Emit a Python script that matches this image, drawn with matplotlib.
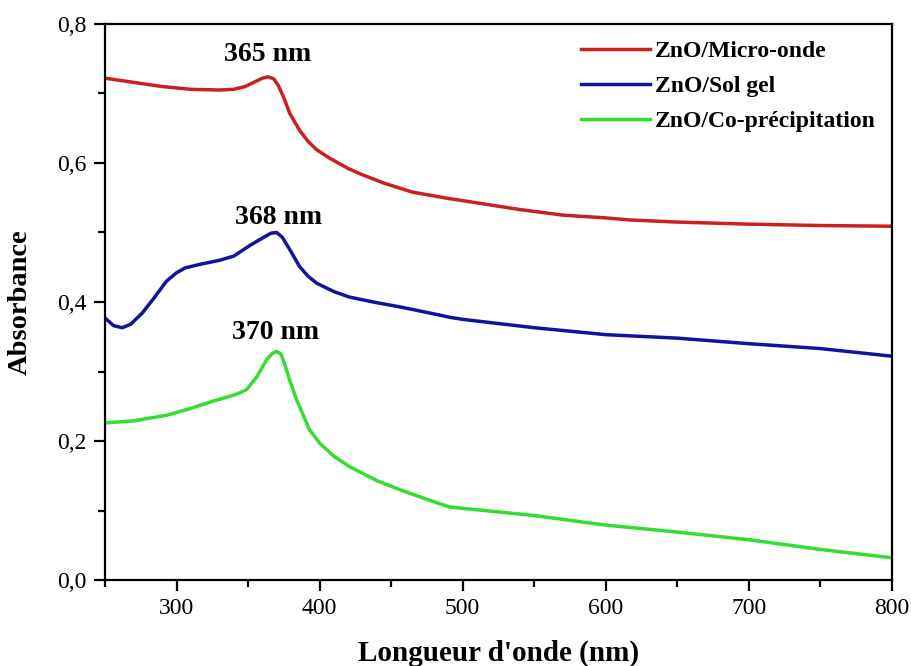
import numpy as np
import matplotlib
matplotlib.use("Agg")
import matplotlib.pyplot as plt
from matplotlib.ticker import MultipleLocator, FuncFormatter

plt.rcParams['font.family'] = ['Liberation Serif', 'DejaVu Serif']

# ZnO / Micro-onde
wl_red = [250, 270, 290, 310, 330, 340, 348, 355, 360, 364, 368, 371, 375, 379, 386, 392,
          398, 407, 420, 430, 445, 465, 490, 512, 540, 570, 600, 617, 650, 700, 750, 800]
abs_red = [0.722, 0.716, 0.710, 0.706, 0.705, 0.706, 0.710, 0.717, 0.722, 0.724, 0.721,
           0.712, 0.694, 0.672, 0.647, 0.631, 0.619, 0.607, 0.592, 0.583, 0.571, 0.558,
           0.549, 0.542, 0.533, 0.525, 0.521, 0.518, 0.515, 0.512, 0.510, 0.509]

# ZnO / Sol gel
wl_blue = [250, 256, 262, 268, 276, 284, 293, 300, 306, 316, 330, 340, 351, 360, 366,
           370, 374, 379, 386, 392, 398, 410, 421, 440, 456, 475, 491, 500, 550, 600,
           650, 700, 750, 800]
abs_blue = [0.377, 0.366, 0.363, 0.368, 0.384, 0.405, 0.430, 0.442, 0.449, 0.454, 0.460,
            0.466, 0.481, 0.492, 0.499, 0.500, 0.493, 0.476, 0.451, 0.437, 0.427, 0.415,
            0.407, 0.399, 0.393, 0.385, 0.378, 0.375, 0.363, 0.353, 0.348, 0.340, 0.333,
            0.322]

# ZnO / Co-precipitation
wl_green = [250, 270, 293, 310, 325, 340, 345, 349, 356, 363, 367, 370, 373, 376, 379,
            384, 393, 400, 410, 421, 440, 456, 475, 491, 520, 549, 600, 650, 700, 750,
            800]
abs_green = [0.226, 0.229, 0.237, 0.247, 0.257, 0.266, 0.270, 0.274, 0.292, 0.317, 0.326,
             0.329, 0.325, 0.308, 0.288, 0.259, 0.216, 0.197, 0.178, 0.163, 0.143, 0.130,
             0.116, 0.105, 0.099, 0.093, 0.079, 0.069, 0.058, 0.044, 0.032]

labels = ["ZnO/Micro-onde", "ZnO/Sol gel", "ZnO/Co-précipitation"]
colors = ["#cc1f1f", "#12129e", "#33dd33"]
peak_text = ["365 nm", "368 nm", "370 nm"]
peak_pos = [(364, 0.756), (371, 0.522), (369, 0.356)]

fig = plt.figure(figsize=(9.12, 6.66), dpi=100)
ax = fig.add_axes([0.1151, 0.1291, 0.8629, 0.8349])

series = [(wl_red, abs_red), (wl_blue, abs_blue), (wl_green, abs_green)]
for (x, y), lab, col in zip(series, labels, colors):
    ax.plot(x, y, color=col, lw=2.5, label=lab, solid_joinstyle='round')

for txt, (px, py) in zip(peak_text, peak_pos):
    ax.text(px, py, txt, ha='center', va='center', fontsize=20, fontweight='bold')

ax.set_xlim(250, 800)
ax.set_ylim(0, 0.8)
ax.xaxis.set_major_locator(MultipleLocator(100))
ax.xaxis.set_minor_locator(MultipleLocator(50))
ax.yaxis.set_major_locator(MultipleLocator(0.2))
ax.yaxis.set_minor_locator(MultipleLocator(0.1))
ax.yaxis.set_major_formatter(FuncFormatter(lambda v, p: f"{v:.1f}".replace('.', ',')))

ax.tick_params(which='both', direction='out', width=1.6, labelsize=17, top=False, right=False)
ax.tick_params(which='major', length=8, pad=5)
ax.tick_params(which='minor', length=5)
for s in ax.spines.values():
    s.set_linewidth(1.6)

ax.set_xlabel("Longueur d'onde (nm)", fontsize=21, fontweight='bold', labelpad=15)
ax.set_ylabel("Absorbance", fontsize=20.5, fontweight='bold', labelpad=18)

leg = ax.legend(loc='upper right', frameon=False, prop={'weight': 'bold', 'size': 17},
                handlelength=2.9, handletextpad=0.2, labelspacing=0.58,
                borderaxespad=0.3, bbox_to_anchor=(1.0, 1.0))

fig.savefig("out.png", dpi=100)
